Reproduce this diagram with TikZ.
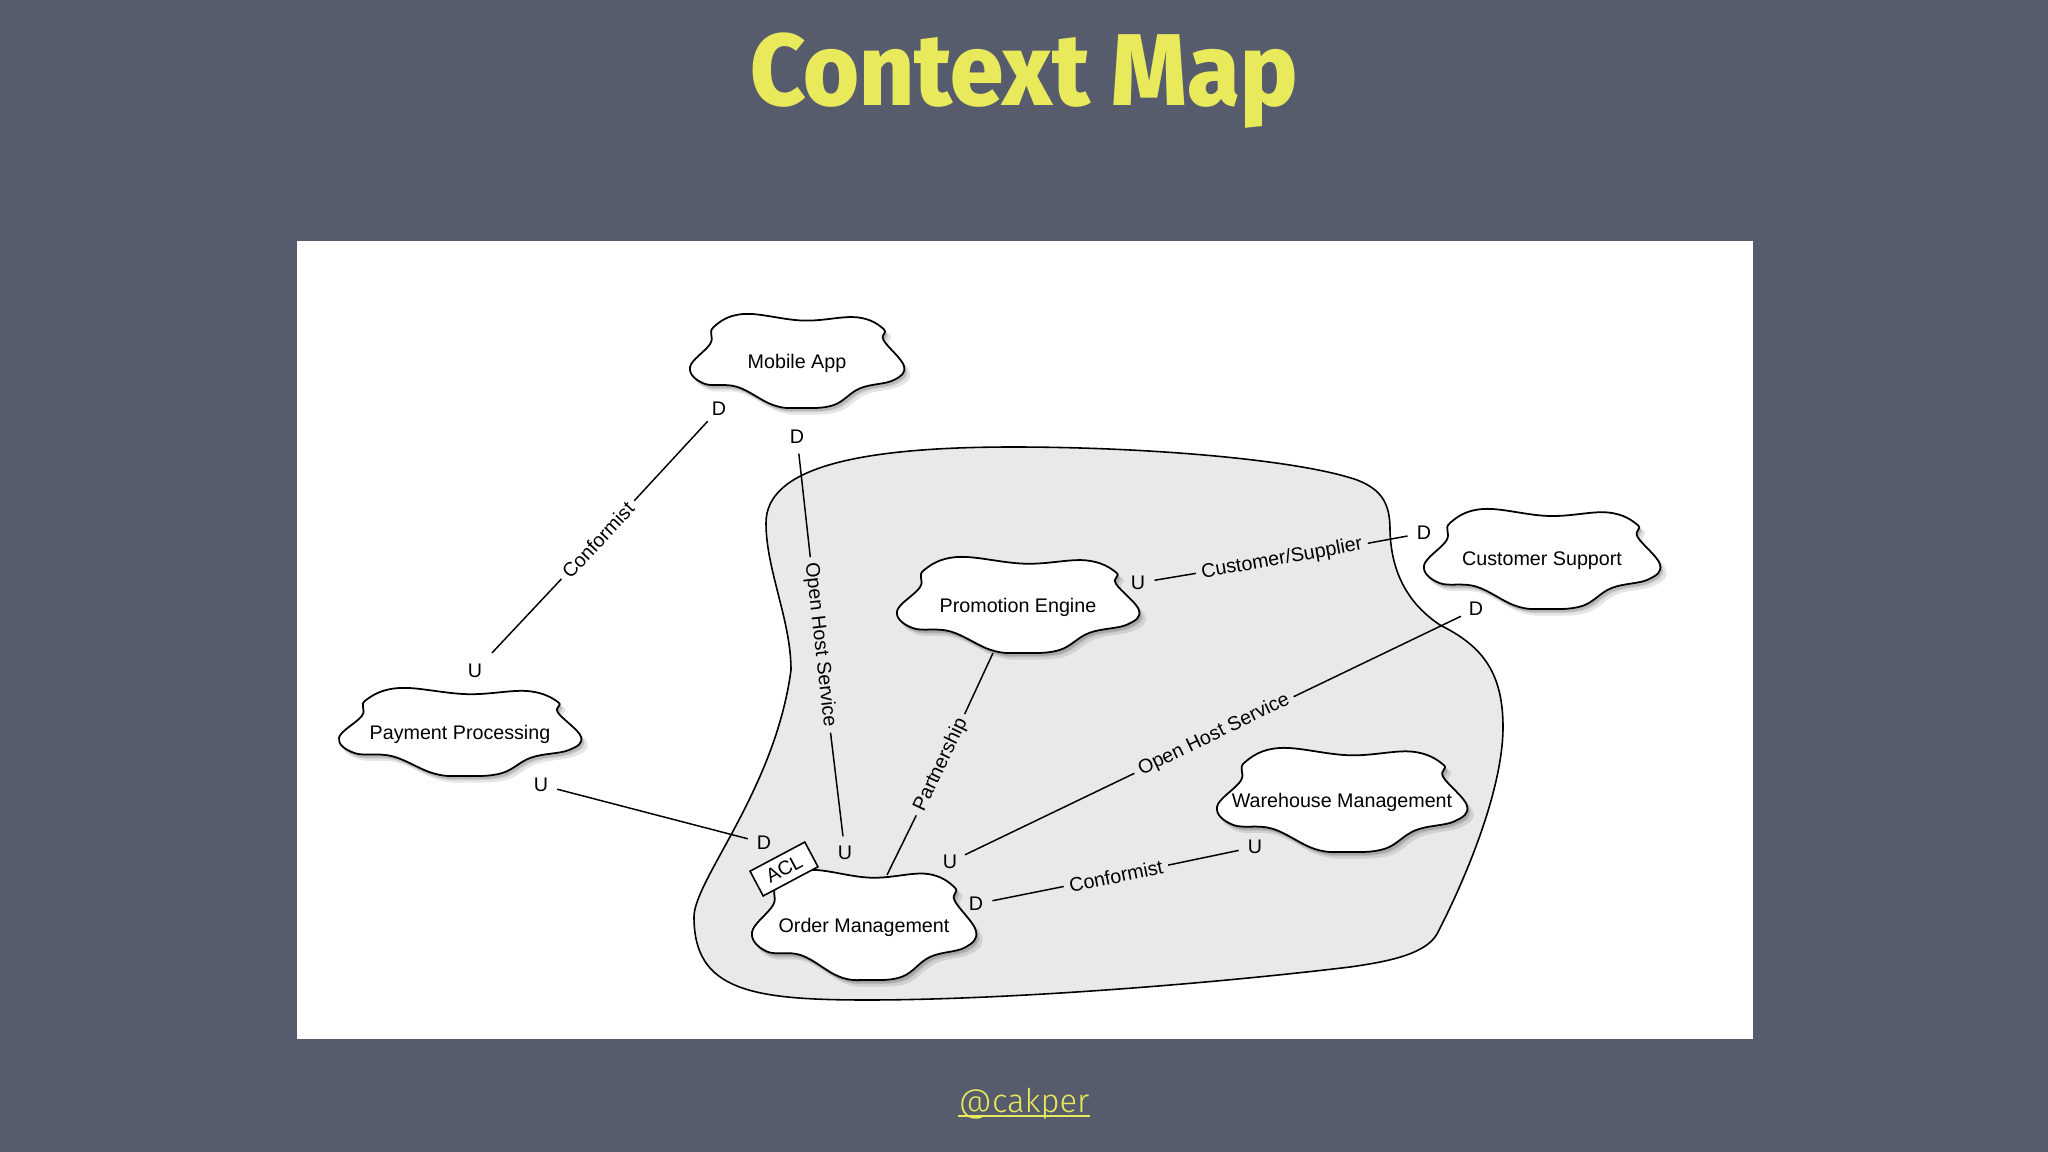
\documentclass[tikz,border=0pt]{standalone}
\usepackage{fontspec}
\setmainfont{Liberation Sans}
\newfontfamily\titlefont[FakeStretch=0.94]{Fira Sans ExtraBold}
\newfontfamily\handlefont{Fira Sans Light}
\definecolor{slidebg}{HTML}{565C6C}
\definecolor{slideyellow}{HTML}{E9E95C}
\definecolor{regiongrey}{HTML}{E9E9EB}
\newcommand{\cloudpath}{plot[smooth cycle, tension=0.65] coordinates {(-0.78,-0.72) (-0.50,-1) (0.06,-0.86) (0.56,-0.93) (0.81,-0.68) (0.81,-0.44) (1,0.11) (0.90,0.41) (0.59,0.58) (0.34,0.94) (0.03,1) (-0.22,0.94) (-0.56,0.55) (-0.87,0.48) (-1,0.13) (-0.81,-0.37)}}
\tikzset{
	ctx/.style={font=\fontsize{5.6}{7}\selectfont},
	cloudname/.style={ctx, inner sep=0pt},
	updown/.style={ctx, circle, inner sep=0pt, minimum size=0.32cm},
	relation/.style={ctx, inner xsep=0.05cm, inner ysep=0pt},
	cloudline/.style={fill=white, draw=black, line width=0.5pt},
	cloudshade/.style={fill=black, opacity=0.10},
	link/.style={line width=0.42pt},
}
\newcommand{\cloudat}[6]{%
	\fill[cloudshade, shift={(#1+5,#2+6)}, x=#3*0.0101cm, y=-#4*0.0101cm] \cloudpath;
	\fill[cloudshade, shift={(#1+3,#2+4)}, x=#3*0.01cm, y=-#4*0.01cm] \cloudpath;
	\fill[cloudshade, shift={(#1+2,#2+3)}, x=#3*0.01cm, y=-#4*0.01cm] \cloudpath;
	\draw[cloudline, shift={(#1,#2)}, x=#3*0.01cm, y=-#4*0.01cm] \cloudpath;
	\node[cloudname] (#5) at (#1,#2+2) {#6};
}
\begin{document}
\begin{tikzpicture}[x=0.01cm, y=-0.01cm]
	\useasboundingbox (0,0) rectangle (2048,1152);
	\fill[slidebg] (0,0) rectangle (2048,1152);
	\fill[white] (297,241) rectangle (1753,1039);
	\node[text=slideyellow, font=\titlefont\fontsize{29}{31}\selectfont] (title) at (1024,81) {Context Map};
	\node[text=slideyellow, inner sep=0pt, font=\handlefont\fontsize{9.3}{11}\selectfont] (handle) at (1024,1104) {@cakper};
	\draw[slideyellow, line width=0.45pt] ([yshift=-0.9pt]handle.base west) -- ([yshift=-0.9pt]handle.base east);
	% bounded context
	\draw[fill=regiongrey, line width=0.45pt] (766,523) .. controls (766,470) and (850,447) .. (1013,447)
		.. controls (1150,447) and (1300,460) .. (1357,480)
		.. controls (1383,490) and (1390,505) .. (1390,530)
		.. controls (1391,575) and (1410,605) .. (1440,625)
		.. controls (1480,645) and (1503,670) .. (1503,727)
		.. controls (1503,790) and (1465,880) .. (1437,934)
		.. controls (1425,955) and (1385,962) .. (1350,967)
		.. controls (1200,985) and (1000,1000) .. (867,1000)
		.. controls (750,1000) and (694,990) .. (694,917)
		.. controls (694,880) and (775,790) .. (791,670)
		.. controls (791,620) and (766,570) .. (766,523) -- cycle;
	% clouds
	\cloudat{797}{361}{107}{47}{mobile}{Mobile App}
	\cloudat{1018}{605}{121}{48}{promo}{Promotion Engine}
	\cloudat{1542}{559}{118}{50}{support}{Customer Support}
	\cloudat{1342}{800}{125}{52}{whouse}{Warehouse Management}
	\cloudat{864}{925}{112}{55}{order}{Order Management}
	\cloudat{460}{732}{121}{44}{payment}{Payment Processing}
	\node[ctx, draw, fill=white, line width=0.45pt, rotate=28, minimum width=0.62cm, minimum height=0.28cm, inner sep=0pt] (acl) at (784,869) {ACL};
	% up and down ends
	\node[updown] (mobileD) at (719,409) {D};
	\node[updown] (mobileOhs) at (797,437) {D};
	\node[updown, minimum size=0.48cm] (paymentU) at (475,671) {U};
	\node[updown] (paymentOut) at (541,785) {U};
	\node[updown] (orderD) at (764,843) {D};
	\node[updown] (orderOhs) at (845,853) {U};
	\node[updown] (orderOut) at (950,862) {U};
	\node[updown] (orderConf) at (976,904) {D};
	\node[updown] (whouseU) at (1255,847) {U};
	\node[updown] (promoU) at (1138,583) {U};
	\node[updown] (supportD) at (1424,533) {D};
	\node[updown] (supportOhs) at (1476,609) {D};
	\coordinate (promoBottom) at (993,653);
	\coordinate (orderTop) at (887,875);
	% relations
	\node[relation, rotate=47] (conf) at (598,540) {Conformist};
	\node[relation, rotate=-83.5] (ohsMobile) at (820,645) {Open Host Service};
	\node[relation, rotate=64.5] (partner) at (941,765) {Partnership};
	\node[relation, rotate=25.7] (ohsSupport) at (1214,735) {Open Host Service};
	\node[relation, rotate=11.7] (confWh) at (1116,876) {Conformist};
	\node[relation, rotate=10.2] (custSup) at (1282,559) {Customer/Supplier};
	\draw[link] (mobileD) -- (conf) -- (paymentU);
	\draw[link] (mobileOhs) -- (ohsMobile) -- (orderOhs);
	\draw[link] (promoBottom) -- (partner) -- (orderTop);
	\draw[link] (orderOut) -- (ohsSupport) -- (supportOhs);
	\draw[link] (orderConf) -- (confWh) -- (whouseU);
	\draw[link] (promoU) -- (custSup) -- (supportD);
	\draw[link] (paymentOut) -- (orderD);
\end{tikzpicture}
\end{document}
